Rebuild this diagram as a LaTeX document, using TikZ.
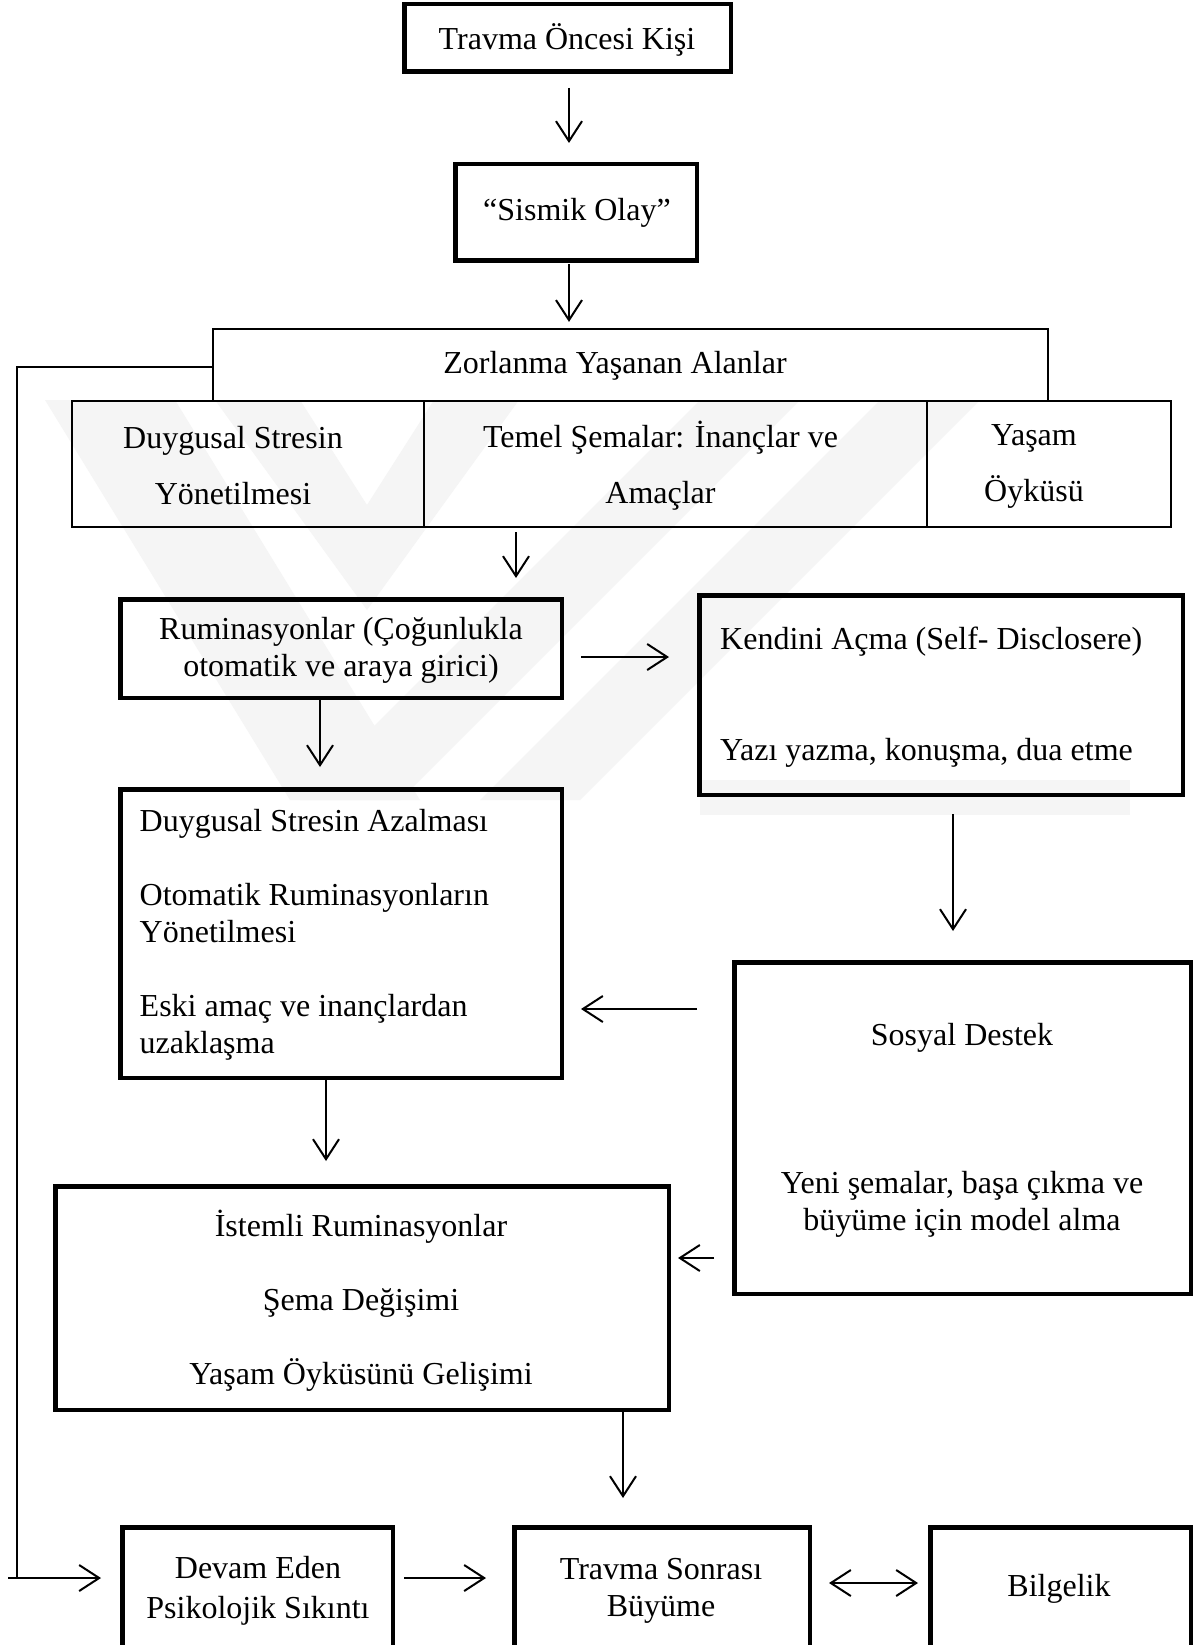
\documentclass[tikz,border=0pt]{standalone}
\usepackage{fontspec}
\setmainfont{Liberation Serif}
\usetikzlibrary{arrows.meta}
\begin{document}
\begin{tikzpicture}[x=1pt,y=-1pt,
  thickbox/.style={draw, line width=4.5pt, rectangle, inner sep=0pt},
  thinbox/.style={draw, line width=2.2pt, rectangle, inner sep=0pt},
  txt/.style={inner sep=0pt, font=\fontsize{32}{37}\selectfont, align=center},
  txtl/.style={txt, align=left, anchor=west},
  conn/.style={line width=2pt},
  arr/.style={conn, -{Straight Barb[length=20pt,width=26pt,line width=2pt]}},
  darr/.style={conn, {Straight Barb[length=20pt,width=26pt,line width=2pt]}-{Straight Barb[length=20pt,width=26pt,line width=2pt]}},
  wm/.style={fill=black!4, draw=none}
]
\useasboundingbox (0,0) rectangle (1195,1645);
\clip (0,0) rectangle (1195,1645);
\fill[white] (0,0) rectangle (1195,1645);

% faint watermark
\fill[wm] (45,400) -- (175,400) -- (420,800) -- (290,800) -- cycle;
\fill[wm] (300,800) -- (400,800) -- (800,400) -- (700,400) -- cycle;
\fill[wm] (480,800) -- (580,800) -- (980,400) -- (880,400) -- cycle;
\fill[wm] (215,400) -- (300,400) -- (367,505) -- (434,400) -- (519,400) -- (367,610) -- cycle;
\fill[wm] (700,780) -- (1130,780) -- (1130,815) -- (700,815) -- cycle;

% boxes
\node[thickbox, minimum width=326.5pt, minimum height=67.5pt] (b1) at (567.5,38) {};
\node[thickbox, minimum width=241.5pt, minimum height=96.5pt] (b2) at (576,212.5) {};
\node[thinbox, minimum width=835pt, minimum height=72pt] (zor) at (630.5,365) {};
\node[thinbox, minimum width=352pt, minimum height=126pt] (c1) at (248,464) {};
\node[thinbox, minimum width=503pt, minimum height=126pt] (c2) at (675.5,464) {};
\node[thinbox, minimum width=244pt, minimum height=126pt] (c3) at (1049,464) {};
\node[thickbox, minimum width=441.5pt, minimum height=98.5pt] (rum) at (341,648.5) {};
\node[thickbox, minimum width=483.5pt, minimum height=199.5pt] (ken) at (941,695) {};
\node[thickbox, minimum width=441.5pt, minimum height=288.5pt] (duy) at (341,933.5) {};
\node[thickbox, minimum width=456.5pt, minimum height=331.5pt] (sos) at (962.5,1128) {};
\node[thickbox, minimum width=613.5pt, minimum height=223.5pt] (ist) at (362,1298) {};
\node[thickbox, minimum width=270.5pt, minimum height=125.5pt] (dev) at (257.5,1590) {};
\node[thickbox, minimum width=295.5pt, minimum height=125.5pt] (tra) at (662,1590) {};
\node[thickbox, minimum width=260.5pt, minimum height=125.5pt] (bil) at (1060.5,1590) {};

% texts
\node[txt] (t1) at (567,40) {Travma Öncesi Kişi};
\node[txt] (t2) at (577,213) {“Sismik Olay”};
\node[txt] (tz) at (615,366) {Zorlanma Yaşanan Alanlar};
\node[txt] (tc1) at (233,466) {Duygusal Stresin\\[19pt] Yönetilmesi};
\node[txt] (tc2) at (660.5,466) {Temel Şemalar: İnançlar ve\\[19pt] Amaçlar};
\node[txt] (tc3) at (1034,466) {Yaşam\\[19pt] Öyküsü};
\node[txt] (trum) at (341,650) {Ruminasyonlar (Çoğunlukla\\ otomatik ve araya girici)};
\node[txtl] (tken) at (720,697.5) {Kendini Açma (Self- Disclosere)\\[74pt] Yazı yazma, konuşma, dua etme};
\node[txtl] (tduy) at (139.5,935) {Duygusal Stresin Azalması\\[37pt] Otomatik Ruminasyonların\\ Yönetilmesi\\[37pt] Eski amaç ve inançlardan\\ uzaklaşma};
\node[txt] (tsos) at (962,1130) {Sosyal Destek\\[111pt] Yeni şemalar, başa çıkma ve\\ büyüme için model alma};
\node[txt] (tist) at (361,1301) {İstemli Ruminasyonlar\\[37pt] Şema Değişimi\\[37pt] Yaşam Öyküsünü Gelişimi};
\node[txt] (tdev) at (258,1591) {Devam Eden\\[3pt] Psikolojik Sıkıntı};
\node[txt] (ttra) at (661,1591) {Travma Sonrası\\ Büyüme};
\node[txt] (tbil) at (1059,1589) {Bilgelik};

% connectors
\draw[arr] ([xshift=1.5pt,yshift=-14pt]b1.south) -- ([xshift=-7pt,yshift=19pt]b2.north);
\draw[arr] ([xshift=-7pt,yshift=-1pt]b2.south) -- ([xshift=-61.5pt,yshift=6pt]zor.north);
\draw[arr] ([xshift=-159.5pt,yshift=-4pt]c2.south) -- ([xshift=175pt,yshift=19pt]rum.north);
\draw[arr] ([xshift=17pt,yshift=-8.5pt]rum.east) -- ([xshift=-28pt,yshift=38pt]ken.west);
\draw[arr] ([xshift=-21pt]rum.south) -- ([xshift=-21pt,yshift=20pt]duy.north);
\draw[arr] ([xshift=12pt,yshift=-17pt]ken.south) -- ([xshift=-9.5pt,yshift=29pt]sos.north);
\draw[arr] ([xshift=-35pt,yshift=119pt]sos.west) -- ([xshift=17pt,yshift=-75.5pt]duy.east);
\draw[arr] ([xshift=-15pt]duy.south) -- ([xshift=-36pt,yshift=23pt]ist.north);
\draw[arr] ([xshift=-18pt,yshift=-130pt]sos.west) -- ([xshift=7pt,yshift=40pt]ist.east);
\draw[arr] ([xshift=261pt]ist.south) -- ([xshift=-39pt,yshift=27pt]tra.north);
\draw[arr] ([xshift=9pt,yshift=12pt]dev.east) -- ([xshift=-26pt,yshift=12pt]tra.west);
\draw[darr] ([xshift=17pt,yshift=7pt]tra.east) -- ([xshift=-10pt,yshift=7pt]bil.west);

% feedback line from Zorlanma to Devam
\coordinate (fb1) at (17,367);
\coordinate (fb2) at (17,1578);
\coordinate (fb0) at (8,1578);
\draw[conn] ([yshift=-2pt]zor.west) -- (fb1) -- (fb2);
\draw[arr] (fb0) -- ([xshift=-19pt,yshift=12pt]dev.west);
\end{tikzpicture}
\end{document}
